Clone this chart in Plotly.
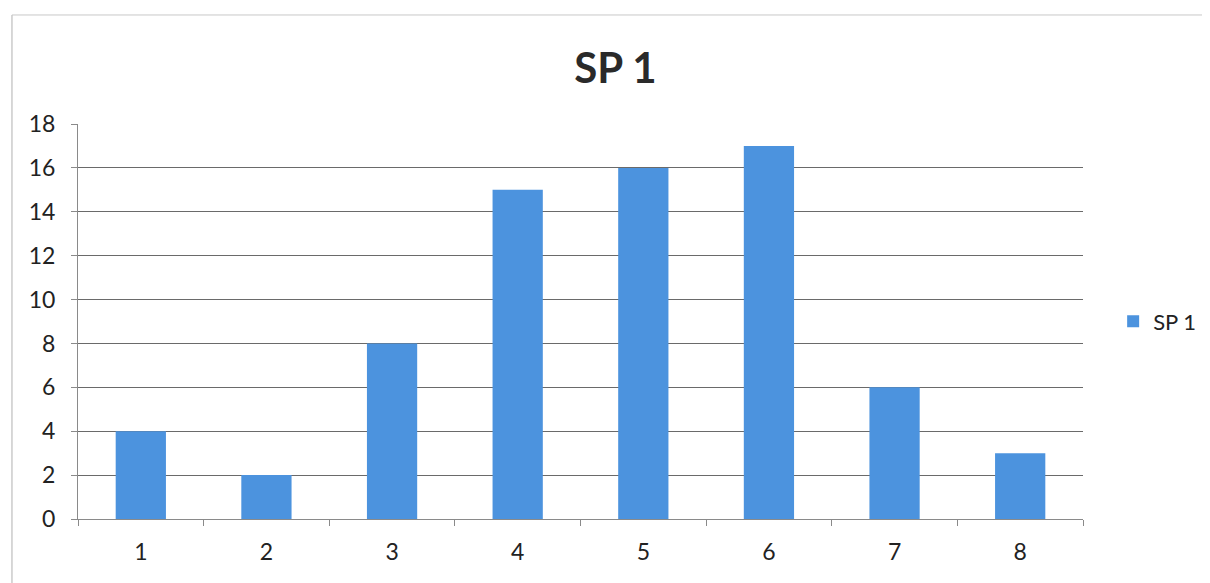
import plotly.graph_objects as go

categories = ["1", "2", "3", "4", "5", "6", "7", "8"]
sp1_values = [4, 2, 8, 15, 16, 17, 6, 3]
y_ticks = [0, 2, 4, 6, 8, 10, 12, 14, 16, 18]

fig = go.Figure()
fig.add_trace(go.Bar(
    x=categories, y=sp1_values, name="SP 1",
    marker=dict(color="#4C93DE", line=dict(width=0)),
    showlegend=True,
))

fig.update_layout(
    width=1210, height=583,
    paper_bgcolor="white", plot_bgcolor="white",
    margin=dict(l=70, r=135, t=116, b=72),
    bargap=0.6,
    font=dict(family="Lato, Open Sans, sans-serif", color="#222222", size=23),
    title=dict(text="<b>SP 1</b>", x=0.502, xanchor="center", y=0.897, yanchor="middle",
               font=dict(size=42, color="#2a2a2a", family="Lato, Open Sans, sans-serif")),
    legend=dict(x=1.03, xanchor="left", y=0.5, yanchor="middle",
                font=dict(size=22, color="#222222"), itemwidth=30,
                bgcolor="rgba(0,0,0,0)"),
    xaxis=dict(type="category", showgrid=False, showline=True, linecolor="#8a8a8a",
               linewidth=1, ticks="outside", tickson="boundaries", ticklen=6,
               tickcolor="#8a8a8a", tickfont=dict(size=23), ticklabelstandoff=12),
    yaxis=dict(range=[0, 18], tickvals=y_ticks, showgrid=True, gridcolor="#6a6a6a",
               gridwidth=1, showline=True, linecolor="#8a8a8a", ticks="outside",
               ticklen=6, tickcolor="#8a8a8a", tickfont=dict(size=23),
               zeroline=False, ticklabelstandoff=11),
)

# chart frame (scanned border on left and top)
fig.add_shape(type="line", xref="paper", yref="paper", x0=-0.0657, x1=-0.0657, y0=-0.2, y1=1.276,
              line=dict(color="#b0b0b0", width=1))
fig.add_shape(type="line", xref="paper", yref="paper", x0=-0.0657, x1=1.2, y0=1.276, y1=1.276,
              line=dict(color="#c8c8c8", width=1))

fig.write_html("out.html")
